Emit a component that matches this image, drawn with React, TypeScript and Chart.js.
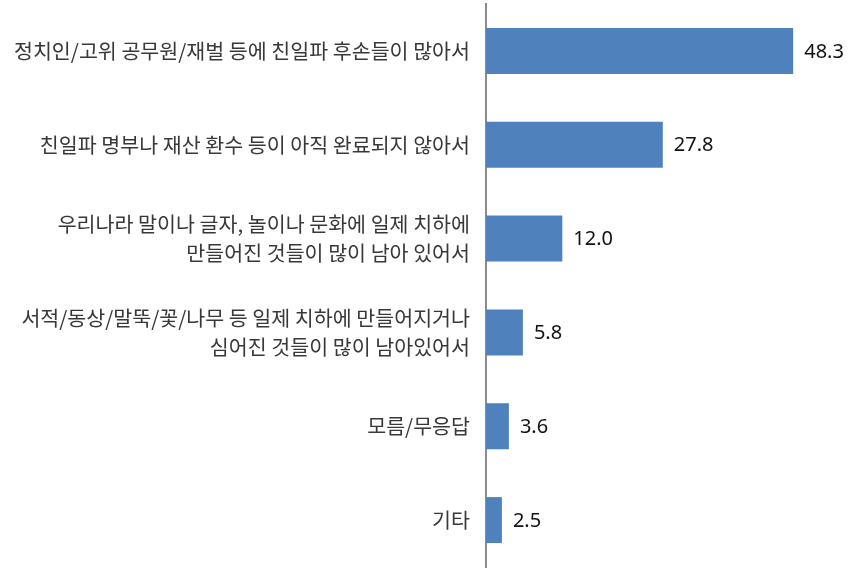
import React, { useEffect, useRef } from "react";
import { Chart, registerables } from "chart.js";

Chart.register(...registerables);

const categories: (string | string[])[] = [
  "정치인/고위 공무원/재벌 등에 친일파 후손들이 많아서",
  "친일파 명부나 재산 환수 등이 아직 완료되지 않아서",
  ["우리나라 말이나 글자, 놀이나 문화에 일제 치하에", "만들어진 것들이 많이 남아 있어서"],
  ["서적/동상/말뚝/꽃/나무 등 일제 치하에 만들어지거나", "심어진 것들이 많이 남아있어서"],
  "모름/무응답",
  "기타",
];
const values: number[] = [48.3, 27.8, 12.0, 5.8, 3.6, 2.5];

const valueLabels = {
  id: "valueLabels",
  afterDatasetsDraw(chart: any) {
    const ctx = chart.ctx;
    const meta = chart.getDatasetMeta(0);
    ctx.save();
    ctx.font = "20px 'Noto Sans', 'DejaVu Sans', sans-serif";
    ctx.fillStyle = "#111111";
    ctx.textAlign = "left";
    ctx.textBaseline = "middle";
    meta.data.forEach((bar: any, i: number) => {
      ctx.fillText(values[i].toFixed(1), bar.x + 11, bar.y + 1);
    });
    ctx.restore();
  },
};

export default function App() {
  const ref = useRef<HTMLCanvasElement | null>(null);
  useEffect(() => {
    document.body.style.margin = "0";
    if (!ref.current) return;
    const chart = new Chart(ref.current, {
      type: "bar",
      data: {
        labels: categories,
        datasets: [
          {
            data: values,
            backgroundColor: "#4F81BD",
            borderWidth: 0,
            categoryPercentage: 1,
            barPercentage: 0.49,
          },
        ],
      },
      options: {
        indexAxis: "y",
        animation: false,
        responsive: false,
        maintainAspectRatio: false,
        layout: { padding: { top: 4, bottom: 4, right: 56, left: 0 } },
        plugins: {
          legend: { display: false },
          tooltip: { enabled: false },
        },
        scales: {
          x: { display: false, min: 0, max: 50 },
          y: {
            afterFit: (scale: any) => {
              scale.width = 486;
              scale.paddingTop = 0;
              scale.paddingBottom = 0;
            },
            grid: { display: false, drawTicks: false },
            border: { display: true, color: "#8c8c8c", width: 2 },
            ticks: {
              padding: 16,
              color: "#383838",
              font: { family: "'Noto Sans CJK KR', sans-serif", size: 20.6, lineHeight: 1.42 },
            },
          },
        },
      },
      plugins: [valueLabels],
    });
    return () => chart.destroy();
  }, []);
  return <canvas ref={ref} width={860} height={571} style={{ display: "block" }} />;
}
